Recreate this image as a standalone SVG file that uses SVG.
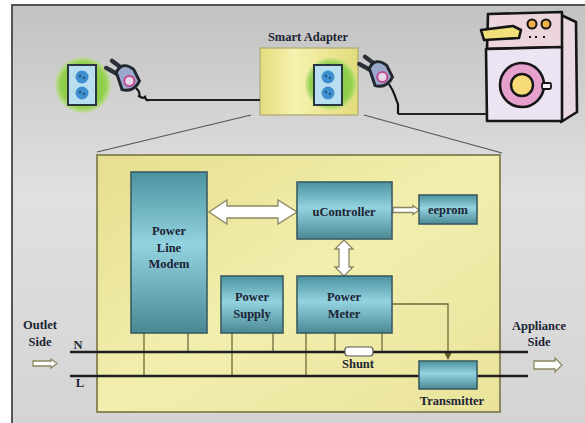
<svg xmlns="http://www.w3.org/2000/svg" width="585" height="423" viewBox="0 0 585 423">
  <defs>
    <linearGradient id="bg" x1="0" y1="0" x2="0" y2="1">
      <stop offset="0" stop-color="#c2c2c2"/>
      <stop offset="0.45" stop-color="#e0e0e0"/>
      <stop offset="1" stop-color="#d4d4d4"/>
    </linearGradient>
    <linearGradient id="panel" x1="0" y1="0" x2="1" y2="1">
      <stop offset="0" stop-color="#e6df8e"/>
      <stop offset="0.5" stop-color="#f2eeae"/>
      <stop offset="1" stop-color="#e9e39a"/>
    </linearGradient>
    <linearGradient id="adapter" x1="0" y1="0" x2="1" y2="0">
      <stop offset="0" stop-color="#e3dc7c"/>
      <stop offset="0.35" stop-color="#f6f2b0"/>
      <stop offset="1" stop-color="#e2dc7a"/>
    </linearGradient>
    <linearGradient id="block" x1="0" y1="0" x2="0" y2="1">
      <stop offset="0" stop-color="#4b929f"/>
      <stop offset="0.45" stop-color="#93d3df"/>
      <stop offset="1" stop-color="#4a8894"/>
    </linearGradient>
    <radialGradient id="green" cx="0.5" cy="0.5" r="0.5">
      <stop offset="0" stop-color="#80c43e"/>
      <stop offset="0.8" stop-color="#92d04e"/>
      <stop offset="1" stop-color="#b6e07a" stop-opacity="0.5"/>
    </radialGradient>
    <marker id="tip" viewBox="0 0 8 8" refX="7" refY="4" markerWidth="6" markerHeight="6" orient="auto">
      <path d="M0,0 L8,4 L0,8 z" fill="#5d5b30"/>
    </marker>
    <g id="outlet">
      <rect x="-14" y="-20" width="28" height="40" fill="#b9def0" stroke="#2b3640" stroke-width="2"/>
      <circle cx="0" cy="-8" r="6.5" fill="#3f8fcf"/>
      <circle cx="0" cy="8" r="6.5" fill="#3f8fcf"/>
      <circle cx="-2" cy="-9" r="1.2" fill="#1d5a8a"/>
      <circle cx="2" cy="-7" r="1.2" fill="#1d5a8a"/>
      <circle cx="-2" cy="7" r="1.2" fill="#1d5a8a"/>
      <circle cx="2" cy="9" r="1.2" fill="#1d5a8a"/>
    </g>
    <g id="plug">
      <path d="M-13,-9 L-4,-4 M-9,-14 L-1,-8" stroke="#2b3038" stroke-width="3" stroke-linecap="round"/>
      <path d="M-6,-6 Q-2,-14 6,-8 L10,0 Q6,8 -2,6 Z" fill="#9aa8cc" stroke="#22262e" stroke-width="2"/>
      <circle cx="3" cy="0" r="3.5" fill="#e7d6e8" stroke="#c04a90" stroke-width="1.4"/>
    </g>
  </defs>

  <style>
    .t { font-family: "Liberation Serif", "Times New Roman", serif; font-weight: bold; font-size: 12.5px; fill: #1c2434; text-anchor: middle; }
    .blk { fill: url(#block); stroke: #3c5c62; stroke-width: 1.6; }
    .tap { stroke: #6d6b3c; stroke-width: 1.3; fill: none; }
    .bus { stroke: #1e1e1e; stroke-width: 2.6; }
    .harrow { fill: #ffffff; stroke: #8a8760; stroke-width: 1.3; }
    .ink { stroke: #151515; stroke-width: 2.6; stroke-linejoin: round; stroke-linecap: round; }
  </style>

  <!-- frame -->
  <rect x="0" y="0" width="585" height="423" fill="#ffffff"/>
  <rect x="12" y="5" width="573" height="418" fill="url(#bg)"/>
  <path d="M12,423 L12,5 L585,5" fill="none" stroke="#555" stroke-width="2"/>

  <!-- top scene: wall outlet, adapter, washing machine -->
  <g id="wall-outlet">
    <circle cx="83" cy="85" r="28" fill="url(#green)"/>
    <use href="#outlet" x="82" y="85"/>
  </g>
  <g id="wall-plug">
    <use href="#plug" transform="translate(125,81) scale(1.45)"/>
    <path d="M136,88 Q141,93 139,96 Q143,99 145,97 Q146,101 149,100" fill="none" stroke="#151515" stroke-width="2.2"/>
  </g>

  <g id="smart-adapter">
    <text class="t" x="308" y="41">Smart Adapter</text>
    <rect x="260" y="48" width="98" height="67" fill="url(#adapter)" stroke="#b7b27c" stroke-width="1.5"/>
    <circle cx="331" cy="84" r="26" fill="url(#green)"/>
    <use href="#outlet" x="328" y="85"/>
  </g>
  <g id="adapter-plug">
    <use href="#plug" transform="translate(378,77) scale(1.45)"/>
    <path d="M389,84 Q393,90 395,96 Q397,102 398,104 L398,114" fill="none" stroke="#151515" stroke-width="2.2"/>
  </g>

  <g id="washing-machine">
    <!-- side panel -->
    <path class="ink" d="M561,15 L576,22 L577,112 L561,122 Z" fill="#ead9e2"/>
    <!-- top control panel -->
    <path class="ink" d="M488,14 L562,12 L562,47 L487,49 Z" fill="#ecd6dc"/>
    <!-- front -->
    <path class="ink" d="M486,49 L562,47 L562,121 L487,121 Z" fill="#ece4f2"/>
    <!-- drawer -->
    <path class="ink" d="M481,30 L513,26 L521,30 L519,38 L484,40 Z" fill="#f2e07a"/>
    <!-- knobs -->
    <circle cx="532" cy="24" r="4.5" fill="#f0b04a" stroke="#151515" stroke-width="2"/>
    <circle cx="546" cy="24" r="4.5" fill="#f0b04a" stroke="#151515" stroke-width="2"/>
    <path d="M530,36 L530,38 M536,36 L536,38 M544,36 L544,38" stroke="#151515" stroke-width="2"/>
    <!-- door -->
    <circle cx="522" cy="85" r="22" fill="#e6a0cc" stroke="#151515" stroke-width="2.6"/>
    <circle cx="522" cy="85" r="11" fill="#f6da78" stroke="#151515" stroke-width="2.4"/>
    <rect x="542" y="83" width="9" height="6" rx="1.5" fill="#f4eef4" stroke="#151515" stroke-width="1.8"/>
  </g>

  <!-- cords and zoom lines -->
  <g id="cords">
    <path d="M148,100 L260,100" stroke="#222" stroke-width="2"/>
    <path d="M398,114 L487,114" stroke="#222" stroke-width="2"/>
    <path d="M251,115 L97,152" stroke="#555" stroke-width="1.2"/>
    <path d="M364,115 L502,153" stroke="#555" stroke-width="1.2"/>
  </g>

  <!-- enlarged adapter internals -->
  <rect x="97" y="155" width="403" height="257" fill="url(#panel)" stroke="#8c8a5c" stroke-width="2"/>

  <g id="connectors">
    <!-- line taps -->
    <path class="tap" d="M144,333 V376 M188,333 V352 M232,333 V376 M273,333 V352 M306,333 V376 M335,333 V352 M382,333 V352"/>
    <!-- meter to transmitter -->
    <path class="tap" d="M392,304 H448 V359" marker-end="url(#tip)"/>
    <!-- modem <-> controller -->
    <path class="harrow" d="M209,212 L227,200 L227,206 L278,206 L278,200 L297,212 L278,224 L278,218 L227,218 L227,224 Z"/>
    <!-- controller <-> meter -->
    <path class="harrow" d="M344,240 L353,249 L349,249 L349,267 L353,267 L344,276 L335,267 L339,267 L339,249 L335,249 Z"/>
    <!-- controller -> eeprom -->
    <path class="harrow" d="M393,207.5 L413,207.5 L413,205.5 L419,210 L413,214.5 L413,212.5 L393,212.5 Z"/>
  </g>

  <!-- mains conductors -->
  <g id="mains">
    <line class="bus" x1="70" y1="352" x2="528" y2="352"/>
    <line class="bus" x1="70" y1="376" x2="528" y2="376"/>
    <text class="t" x="78" y="349">N</text>
    <text class="t" x="80" y="387">L</text>
    <text class="t" x="40" y="329">Outlet</text>
    <text class="t" x="40" y="346">Side</text>
    <path class="harrow" d="M33,361 L51,361 L51,359 L57,363.5 L51,368 L51,366 L33,366 Z" stroke="#999"/>
    <text class="t" x="539" y="330">Appliance</text>
    <text class="t" x="539" y="346">Side</text>
    <path class="harrow" d="M534,361 L555,361 L555,358 L562,365 L555,372 L555,369 L534,369 Z" stroke="#999"/>
  </g>

  <g id="power-line-modem">
    <rect class="blk" x="131" y="172" width="76" height="161"/>
    <text class="t" x="169" y="235">Power</text>
    <text class="t" x="169" y="252">Line</text>
    <text class="t" x="169" y="268">Modem</text>
  </g>

  <g id="power-supply">
    <rect class="blk" x="221" y="276" width="62" height="57"/>
    <text class="t" x="252" y="301">Power</text>
    <text class="t" x="252" y="318">Supply</text>
  </g>

  <g id="ucontroller">
    <rect class="blk" x="297" y="182" width="95" height="57"/>
    <text class="t" x="344" y="216">uController</text>
  </g>

  <g id="eeprom">
    <rect class="blk" x="419" y="195" width="58" height="29"/>
    <text class="t" x="448" y="214">eeprom</text>
  </g>

  <g id="power-meter">
    <rect class="blk" x="297" y="276" width="95" height="57"/>
    <text class="t" x="344" y="301">Power</text>
    <text class="t" x="344" y="318">Meter</text>
  </g>

  <g id="shunt">
    <rect x="345" y="347" width="28" height="9" rx="3" fill="#ffffff" stroke="#555" stroke-width="1.2"/>
    <text class="t" x="358" y="368">Shunt</text>
  </g>

  <g id="transmitter">
    <rect class="blk" x="419" y="361" width="58" height="28"/>
    <text class="t" x="452" y="405">Transmitter</text>
  </g>
</svg>
